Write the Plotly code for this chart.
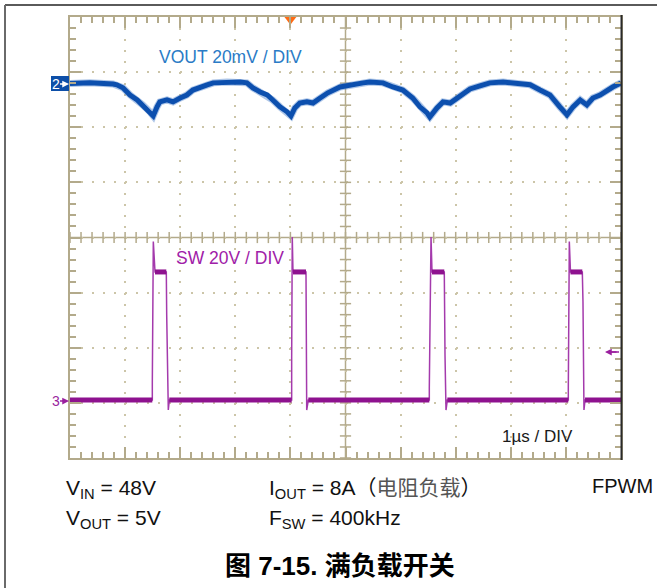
import numpy as np
import plotly.graph_objects as go

# Screen: 10 horizontal divisions of 1 µs, 8 vertical divisions
# CH2 (VOUT) ripple, mV relative to the CH2 marker
vout_t = [0.00, 0.36, 0.78, 0.85, 0.96, 1.09, 1.22, 1.32, 1.45, 1.51,
          1.58, 1.63, 1.76, 1.87, 2.00, 2.12, 2.23, 2.36, 2.49, 2.60,
          2.85, 3.09, 3.21, 3.32, 3.45, 3.58, 3.68, 3.81, 3.94, 4.01,
          4.08, 4.17, 4.30, 4.41, 4.54, 4.68, 4.90, 5.08, 5.32, 5.44,
          5.68, 5.86, 6.04, 6.22, 6.35, 6.48, 6.53, 6.66, 6.77, 6.90,
          7.02, 7.13, 7.26, 7.44, 7.62, 7.86, 8.11, 8.35, 8.53, 8.71,
          8.89, 9.02, 9.13, 9.26, 9.38, 9.49, 9.62, 9.75, 9.85, 10.0]
vout_mv = [0.0, 0.2, -0.2, -0.5, -1.6, -4.2, -6.0, -7.8, -10.3, -11.8,
           -8.5, -6.7, -6.0, -6.7, -5.3, -4.2, -2.4, -1.3, -0.5, 0.2,
           0.5, 0.5, 0.2, -1.6, -3.1, -4.2, -6.0, -8.5, -10.3, -11.8,
           -8.9, -7.1, -6.7, -7.1, -5.3, -3.4, -1.3, -0.5, 0.2, 0.5,
           0.2, -1.3, -2.4, -5.3, -8.5, -10.7, -12.2, -8.9, -6.7, -7.1,
           -5.3, -3.4, -2.0, -0.9, 0.2, 0.5, 0.2, -0.5, -2.4, -4.2,
           -8.5, -11.4, -8.5, -6.0, -7.8, -5.3, -4.2, -2.4, -1.3, 0.2]

# CH3 (SW node), volts relative to the CH3 marker
sw_t = [0.00, 1.494, 1.494, 1.512, 1.543, 1.748, 1.755, 1.784, 1.802,
        4.023, 4.023, 4.034, 4.047, 4.283, 4.289, 4.296, 4.325,
        6.521, 6.521, 6.552, 6.570, 6.793, 6.806, 6.824, 6.848,
        9.044, 9.044, 9.062, 9.083, 9.298, 9.310, 9.328, 9.347, 10.0]
sw_v = [0, 0, 6.5, 57.5, 46.5, 46.5, 30.9, -3.6, 0,
        0, 15.7, 59.2, 46.5, 46.5, 24.3, -3.6, 0,
        0, 4.7, 59.2, 46.5, 46.5, 16.3, -3.6, 0,
        0, 4.7, 57.5, 46.5, 46.5, 35.7, -3.6, 0, 0]

assert len(vout_t) == len(vout_mv) and len(sw_t) == len(sw_v)

CH2_POS = 2.795    # divisions above centre
CH3_POS = -2.95
VOUT_SCALE = 20.0  # mV / div
SW_SCALE = 20.0    # V / div
TRIGGER_T = 4.0

W, H = 657, 588
L, R, T, B = 70, 36, 17, 130
PW, PH = W - L - R, H - T - B


def px(x):
    return (x - L) / PW


def py(y):
    return (H - B - y) / PH


GRID = '#B3AA8B'
DOTS = '#CCC5A8'
BLUE = '#0C4FAE'
PURPLE = '#8E128F'
PURPLE_TXT = '#9A1F9E'

vout_y = CH2_POS + np.array(vout_mv) / VOUT_SCALE
sw_y = CH3_POS + np.array(sw_v) / SW_SCALE
sw_arr = np.array(sw_v, dtype=float)
flat = (np.abs(sw_arr) < 1) | ((sw_arr > 45) & (sw_arr < 48))
sw_flat = np.where(flat, sw_y, np.nan)

fig = go.Figure()

# centre crosshair ticks
cx = np.arange(0, 10.001, 0.2)
cy = np.arange(-4, 4.001, 0.2)
fig.add_trace(go.Scatter(x=cx, y=np.zeros_like(cx), mode='markers',
                         marker=dict(symbol='line-ns', size=8, line=dict(color=GRID, width=1.5)),
                         hoverinfo='skip', showlegend=False))
fig.add_trace(go.Scatter(x=np.full_like(cy, 5.0), y=cy, mode='markers',
                         marker=dict(symbol='line-ew', size=8, line=dict(color=GRID, width=1.5)),
                         hoverinfo='skip', showlegend=False))

# SW trace: thin edges plus the noisy flat levels
fig.add_trace(go.Scatter(x=sw_t, y=sw_y, mode='lines',
                         line=dict(color='#A43AAC', width=1.5),
                         showlegend=False, hoverinfo='skip'))
fig.add_trace(go.Scatter(x=sw_t, y=sw_flat, mode='lines', connectgaps=False,
                         line=dict(color=PURPLE, width=5),
                         showlegend=False, hoverinfo='skip'))

# VOUT trace
fig.add_trace(go.Scatter(x=vout_t, y=vout_y, mode='lines',
                         line=dict(color='#5F8FD3', width=7),
                         opacity=0.5, showlegend=False, hoverinfo='skip'))
fig.add_trace(go.Scatter(x=vout_t, y=vout_y, mode='lines',
                         line=dict(color=BLUE, width=5),
                         showlegend=False, hoverinfo='skip'))

# trigger marker
fig.add_trace(go.Scatter(x=[TRIGGER_T], y=[3.96], mode='markers', cliponaxis=False,
                         marker=dict(symbol='triangle-down', size=11, color='#FF6A13'),
                         showlegend=False, hoverinfo='skip'))

axis_common = dict(
    showticklabels=False, zeroline=False,
    showgrid=True, gridcolor=DOTS, gridwidth=2, griddash='2px,9.02px',
    showline=True, mirror='ticks', linecolor=GRID, linewidth=1.5,
    ticks='inside', ticklen=11, tickwidth=1.5, tickcolor=GRID,
)
fig.update_xaxes(range=[0, 10], dtick=1, tick0=0,
                 minor=dict(dtick=0.2, tick0=0, ticks='inside', ticklen=6,
                            tickwidth=1.5, tickcolor=GRID, showgrid=False),
                 **axis_common)
fig.update_yaxes(range=[-4, 4], dtick=1, tick0=0,
                 minor=dict(dtick=0.2, tick0=0, ticks='inside', ticklen=6,
                            tickwidth=1.5, tickcolor=GRID, showgrid=False),
                 **axis_common)


def pline(x0, y0, x1, y1, color, width):
    return dict(type='line', xref='paper', yref='paper', x0=px(x0), x1=px(x1),
                y0=py(y0), y1=py(y1), line=dict(color=color, width=width))


shapes = [
    # centre crosshair
    dict(type='line', xref='x', yref='y', x0=0, x1=10, y0=0, y1=0,
         line=dict(color=GRID, width=1.5), layer='below'),
    dict(type='line', xref='x', yref='y', x0=5, x1=5, y0=-4, y1=4,
         line=dict(color=GRID, width=1.5), layer='below'),
    # dark right screen edge
    pline(621.5, 15, 621.5, 460, '#2A2A2A', 2),
    # page frame
    pline(5, 5, 657, 5, '#5A5A5A', 2),
    pline(5, 5, 5, 588, '#6A6A6A', 2),
    # CH2 marker box
    dict(type='rect', xref='paper', yref='paper', x0=px(51), x1=px(69),
         y0=py(91), y1=py(76), fillcolor='#0D4FA8', line=dict(width=0)),
    # arrow shafts
    pline(60, 84, 67, 84, 'white', 1.5),
    pline(60, 401, 67, 401, PURPLE_TXT, 1.5),
    pline(607, 352, 619, 352, PURPLE_TXT, 1.5),
]

SANS = 'Liberation Sans, Arial, Noto Sans CJK SC'


def note(text, x, y, size, color, xanchor='left', yanchor='middle'):
    return dict(text=text, x=px(x), y=py(y), xref='paper', yref='paper',
                xanchor=xanchor, yanchor=yanchor, showarrow=False,
                font=dict(family=SANS, size=size, color=color))


def arrow(x_tip, y, length, color):
    # arrow head; length > 0 means it points to the left
    return dict(text='', x=px(x_tip), y=py(y), xref='paper', yref='paper',
                ax=length, ay=0, showarrow=True, arrowhead=2, arrowsize=0.9,
                arrowwidth=1.5, arrowcolor=color)


annotations = [
    note('VOUT 20mV / DIV', 157, 57, 17.5, '#2A7BC6'),
    note('SW 20V / DIV', 174, 258, 17.5, '#A020A8'),
    note('1µs / DIV', 500, 436, 17, '#1A1A1A'),
    note('2', 56, 84, 14, 'white', xanchor='center'),
    arrow(69, 84, -8, 'white'),
    note('3', 56, 401, 14, PURPLE_TXT, xanchor='center'),
    arrow(69, 401, -8, PURPLE_TXT),
    arrow(605, 352, 13, PURPLE_TXT),
    note('V<sub>IN</sub> = 48V', 64, 489, 21, '#111111'),
    note('V<sub>OUT</sub> = 5V', 64, 519, 21, '#111111'),
    note('I<sub>OUT</sub> = 8A（<span style="color:#555555">电阻负载</span>）', 267, 489, 21, '#111111'),
    note('F<sub>SW</sub> = 400kHz', 267, 519, 21, '#111111'),
    note('FPWM', 590, 486, 20, '#111111'),
    note('<b>图 7-15. 满负载开关</b>', 340, 566, 26, '#000000', xanchor='center'),
]

fig.update_layout(
    width=W, height=H,
    margin=dict(l=L, r=R, t=T, b=B, pad=0),
    paper_bgcolor='white', plot_bgcolor='white',
    shapes=shapes, annotations=annotations,
    showlegend=False,
)

fig.write_html("out.html", config={'displayModeBar': False},
               post_script="document.body.style.margin='0';")
